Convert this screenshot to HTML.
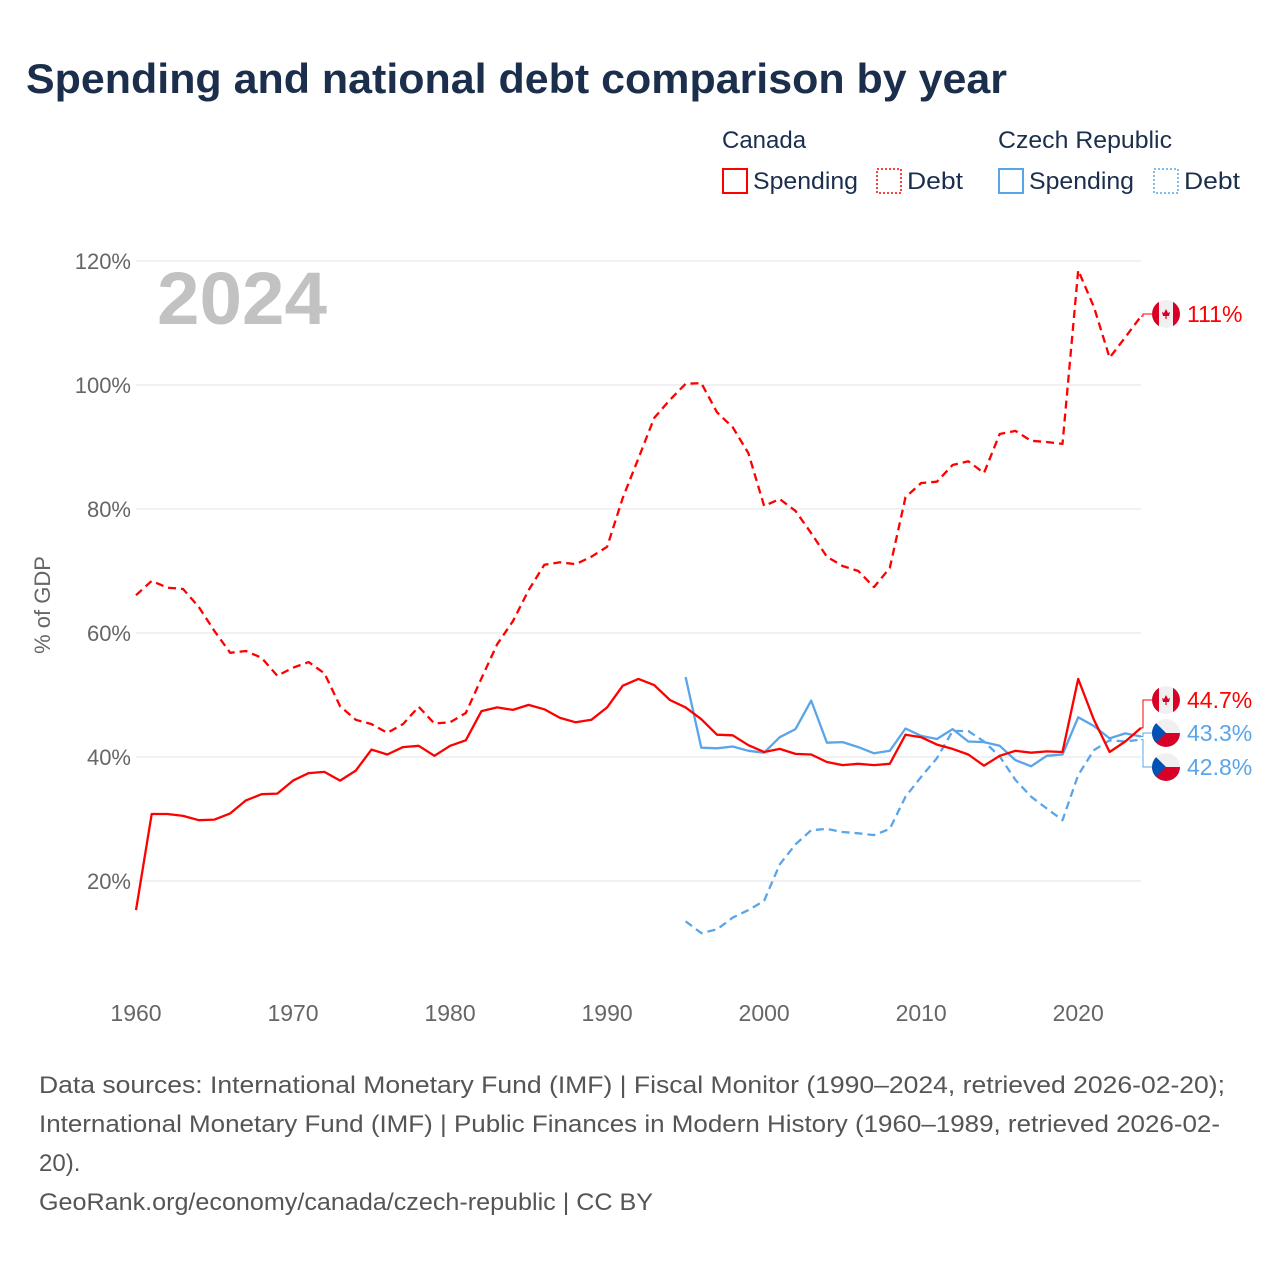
<!DOCTYPE html>
<html><head><meta charset="utf-8"><style>
body{margin:0;background:#fff;}
svg{display:block;font-family:"Liberation Sans",sans-serif;}
</style></head><body>
<svg id="chart" width="1280" height="1280" viewBox="0 0 1280 1280">
<text x="26" y="93" font-size="42" font-weight="bold" fill="#1b2f4d" textLength="981" lengthAdjust="spacingAndGlyphs">Spending and national debt comparison by year</text>
<g font-size="24" fill="#1b2f4d">
<text x="722" y="148">Canada</text>
<text x="998" y="148" textLength="174" lengthAdjust="spacingAndGlyphs">Czech Republic</text>
<g><rect x="723" y="169" width="24" height="24" fill="none" stroke="#ff0000" stroke-width="2"/><text x="753" y="189" textLength="105" lengthAdjust="spacingAndGlyphs">Spending</text></g>
<g><rect x="877" y="169" width="24" height="24" fill="none" stroke="#ff0000" stroke-width="1.5" stroke-dasharray="2 2"/><text x="907" y="189" textLength="56" lengthAdjust="spacingAndGlyphs">Debt</text></g>
<g><rect x="999" y="169" width="24" height="24" fill="none" stroke="#5aa5ea" stroke-width="2"/><text x="1029" y="189" textLength="105" lengthAdjust="spacingAndGlyphs">Spending</text></g>
<g><rect x="1154" y="169" width="24" height="24" fill="none" stroke="#5aa5ea" stroke-width="1.5" stroke-dasharray="2 2"/><text x="1184" y="189" textLength="56" lengthAdjust="spacingAndGlyphs">Debt</text></g>
</g>
<text x="157" y="324" font-size="74" font-weight="bold" fill="#c2c2c2" textLength="170" lengthAdjust="spacingAndGlyphs">2024</text>
<text transform="translate(50,605) rotate(-90)" text-anchor="middle" font-size="22" fill="#666">% of GDP</text>
<g id="grid"></g><g id="series"></g><g id="labels"></g>
<g font-size="24" fill="#555">
<text x="39" y="1093" textLength="1186" lengthAdjust="spacingAndGlyphs">Data sources: International Monetary Fund (IMF) | Fiscal Monitor (1990–2024, retrieved 2026-02-20);</text>
<text x="39" y="1132" textLength="1181" lengthAdjust="spacingAndGlyphs">International Monetary Fund (IMF) | Public Finances in Modern History (1960–1989, retrieved 2026-02-</text>
<text x="39" y="1171">20).</text>
<text x="39" y="1210" textLength="614" lengthAdjust="spacingAndGlyphs">GeoRank.org/economy/canada/czech-republic | CC BY</text>
</g>
</svg>
<script>
const yTicks=[20,40,60,80,100,120];
const xTicks=[1960,1970,1980,1990,2000,2010,2020];
const caYears0=1960;
const caSpending=[15.3,30.8,30.8,30.5,29.8,29.9,30.9,33.0,34.0,34.1,36.2,37.4,37.6,36.2,37.8,41.2,40.4,41.6,41.8,40.2,41.8,42.7,47.4,48.0,47.6,48.4,47.7,46.3,45.6,46.0,48.0,51.5,52.6,51.6,49.2,48.0,46.1,43.6,43.5,41.9,40.8,41.3,40.5,40.4,39.2,38.7,38.9,38.7,38.9,43.6,43.2,42.0,41.3,40.4,38.6,40.2,41.0,40.7,40.9,40.8,52.6,46.0,40.8,42.5,44.7];
const caDebt=[66.1,68.4,67.3,67.1,64.2,60.3,56.8,57.1,56.0,53.1,54.4,55.3,53.5,48.2,46.0,45.3,43.9,45.3,48.1,45.4,45.6,47.1,52.7,58.2,61.9,66.9,71.0,71.4,71.1,72.3,73.9,81.8,88.2,94.7,97.6,100.2,100.3,95.6,93.2,89.0,80.5,81.6,79.7,76.1,72.3,70.8,70.0,67.4,70.5,81.9,84.2,84.4,87.1,87.7,85.8,92.1,92.6,91.0,90.8,90.5,118.5,112.6,104.4,107.7,111.1];
const czYears0=1995;
const czSpending=[52.9,41.5,41.4,41.7,41.0,40.7,43.2,44.5,49.1,42.3,42.4,41.6,40.6,41.0,44.6,43.4,42.9,44.5,42.5,42.4,41.8,39.5,38.5,40.2,40.4,46.4,45.0,43.0,43.8,43.3];
const czDebt=[13.5,11.6,12.2,14.1,15.3,16.8,22.7,25.9,28.2,28.4,27.9,27.7,27.4,28.4,33.6,36.8,39.8,44.2,44.2,42.5,40.1,36.3,33.6,31.7,29.8,37.1,41.1,42.7,42.5,42.8];

const NS='http://www.w3.org/2000/svg';
const X0=136,X1=1141,Y0=1005,PPU=6.2;
const xs=yr=>X0+(yr-1960)*(X1-X0)/64;
const ys=v=>Y0-v*PPU;
function mk(tag,attrs,parent){const e=document.createElementNS(NS,tag);for(const k in attrs)e.setAttribute(k,attrs[k]);parent.appendChild(e);return e;}
const grid=document.getElementById('grid');
yTicks.forEach(t=>{
 const l=mk('line',{x1:X0,x2:X1,y1:ys(t),y2:ys(t),stroke:'#e3e3e3','stroke-width':1},grid);
 
 
 const tx=mk('text',{x:131,y:ys(t)+8,'text-anchor':'end','font-size':22,fill:'#666'},grid);
 tx.textContent=t+'%';
 
 
});
xTicks.forEach(t=>{
 const tx=mk('text',{x:xs(t),y:1021,'text-anchor':'middle','font-size':23,fill:'#666'},grid);
 tx.textContent=t;
 
 
});
const ser=document.getElementById('series');
function line(arr,y0,color,dash,name){
 const pts=arr.map((v,i)=>xs(y0+i).toFixed(1)+','+ys(v).toFixed(1)).join(' ');
 const p=mk('polyline',{points:pts,fill:'none',stroke:color,'stroke-width':2.3,'stroke-linejoin':'round'},ser);
 if(dash)p.setAttribute('stroke-dasharray','8 5');
 
 
}
line(czDebt,czYears0,'#5aa5ea',true,'line-czech-debt');
line(czSpending,czYears0,'#5aa5ea',false,'line-czech-spending');
line(caDebt,caYears0,'#ff0000',true,'line-canada-debt');
line(caSpending,caYears0,'#ff0000',false,'line-canada-spending');

const lab=document.getElementById('labels');
function caFlag(cx,cy,g){
 mk('circle',{cx:cx,cy:cy,r:14,fill:'#f0f0f0'},g);
 mk('path',{d:`M${cx-7} ${cy-12.1} A14 14 0 0 0 ${cx-7} ${cy+12.1} Z`,fill:'#d80027'},g);
 mk('path',{d:`M${cx+7} ${cy-12.1} A14 14 0 0 1 ${cx+7} ${cy+12.1} Z`,fill:'#d80027'},g);
 mk('path',{d:`M${cx} ${cy-5} L${cx+2} ${cy-1} L${cx+4} ${cy-2} L${cx+3} ${cy+2} L${cx+0.6} ${cy+2} L${cx+0.6} ${cy+5} L${cx-0.6} ${cy+5} L${cx-0.6} ${cy+2} L${cx-3} ${cy+2} L${cx-4} ${cy-2} L${cx-2} ${cy-1} Z`,fill:'#d80027'},g);
}
function czFlag(cx,cy,g){
 mk('circle',{cx:cx,cy:cy,r:14,fill:'#f0f0f0'},g);
 mk('path',{d:`M${cx-14} ${cy} A14 14 0 0 0 ${cx+14} ${cy} Z`,fill:'#d80027'},g);
 mk('path',{d:`M${cx-9.9} ${cy-9.9} L${cx} ${cy} L${cx-9.9} ${cy+9.9} A14 14 0 0 1 ${cx-9.9} ${cy-9.9} Z`,fill:'#0052b4'},g);
}
function endLabel(val,color,flagFn,ly,name,text){
 const g=mk('g',{},lab);
 
 
 const ey=ys(val);
 mk('polyline',{points:`${X1},${ey} ${X1+2},${ey} ${X1+2},${ly} ${1152},${ly}`,fill:'none',stroke:color,'stroke-width':1},g);
 flagFn(1166,ly,g);
 const t=mk('text',{x:1187,y:ly+8,'font-size':23,fill:color},g);
 t.textContent=text;
}
endLabel(caDebt[caDebt.length-1],'#ff0000',caFlag,314,'end-label-canada-debt','111%');
endLabel(caSpending[caSpending.length-1],'#ff0000',caFlag,700,'end-label-canada-spending','44.7%');
endLabel(czSpending[czSpending.length-1],'#5aa5ea',czFlag,733,'end-label-czech-spending','43.3%');
endLabel(czDebt[czDebt.length-1],'#5aa5ea',czFlag,767,'end-label-czech-debt','42.8%');
</script>
</body></html>
